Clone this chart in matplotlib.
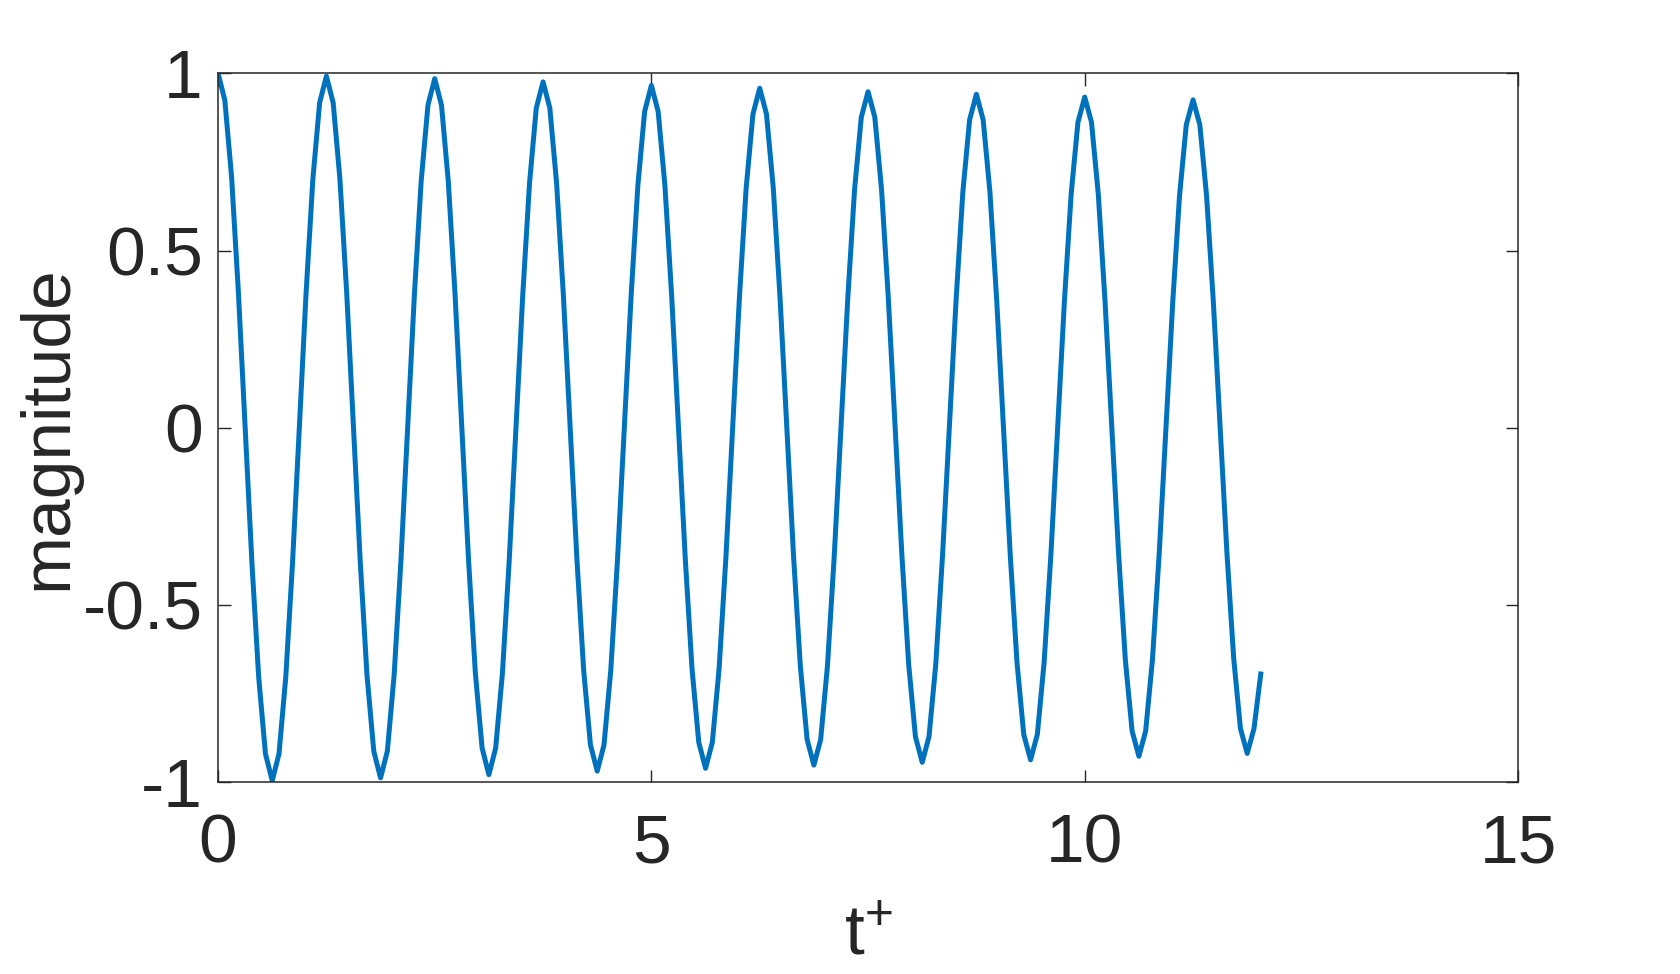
import numpy as np
import matplotlib
matplotlib.use("Agg")
import matplotlib.pyplot as plt

plt.rcParams['font.family'] = ['Liberation Sans', 'DejaVu Sans']
plt.rcParams['axes.unicode_minus'] = False
plt.rcParams['mathtext.fontset'] = 'custom'
plt.rcParams['mathtext.rm'] = 'Liberation Sans'
plt.rcParams['mathtext.it'] = 'Liberation Sans'

# sample spacing of the signal (t+ units)
dt = 0.078125

# magnitude, one value per sample
magnitude = [
    1.000, 0.924, 0.707, 0.383, 0.000, -0.381, -0.704, -0.920,
    -0.996, -0.920, -0.704, -0.381, 0.000, 0.380, 0.701, 0.917,
    0.992, 0.917, 0.701, 0.380, 0.000, -0.378, -0.699, -0.913,
    -0.988, -0.913, -0.699, -0.378, 0.000, 0.377, 0.696, 0.910,
    0.985, 0.910, 0.696, 0.377, 0.000, -0.375, -0.692, -0.904,
    -0.979, -0.904, -0.692, -0.375, 0.000, 0.374, 0.690, 0.902,
    0.976, 0.902, 0.690, 0.374, 0.000, -0.371, -0.685, -0.895,
    -0.969, -0.895, -0.685, -0.371, 0.000, 0.370, 0.683, 0.892,
    0.966, 0.892, 0.683, 0.370, 0.000, -0.368, -0.680, -0.888,
    -0.961, -0.888, -0.680, -0.368, 0.000, 0.367, 0.677, 0.885,
    0.958, 0.885, 0.677, 0.367, 0.000, -0.364, -0.673, -0.880,
    -0.952, -0.880, -0.673, -0.364, 0.000, 0.363, 0.670, 0.876,
    0.948, 0.876, 0.670, 0.363, 0.000, -0.361, -0.668, -0.872,
    -0.944, -0.872, -0.668, -0.361, 0.000, 0.360, 0.665, 0.869,
    0.941, 0.869, 0.665, 0.360, 0.000, -0.359, -0.663, -0.866,
    -0.937, -0.866, -0.663, -0.359, 0.000, 0.357, 0.660, 0.862,
    0.933, 0.862, 0.660, 0.357, 0.000, -0.355, -0.655, -0.856,
    -0.927, -0.856, -0.655, -0.355, 0.000, 0.354, 0.654, 0.855,
    0.925, 0.855, 0.654, 0.354, 0.000, -0.352, -0.650, -0.849,
    -0.919, -0.849, -0.695,
]

xticks = [0, 5, 10, 15]
xtick_labels = ['0', '5', '10', '15']
yticks = [-1, -0.5, 0, 0.5, 1]
ytick_labels = ['-1', '-0.5', '0', '0.5', '1']

t = np.arange(len(magnitude)) * dt

ink = (0.15, 0.15, 0.15)

fig = plt.figure(figsize=(16.8, 9.74), dpi=100)
ax = fig.add_axes([0.1298, 0.197, 0.7738, 0.7277])

ax.plot(t, magnitude, color='#0072BD', linewidth=3.6)

ax.set_xlim(0, 15)
ax.set_ylim(-1, 1)
ax.set_xticks(xticks)
ax.set_xticklabels(xtick_labels)
ax.set_yticks(yticks)
ax.set_yticklabels(ytick_labels)

ax.tick_params(direction='in', length=9, width=1, colors=ink, labelsize=50,
               top=True, right=True)
ax.tick_params(axis='x', pad=22)
ax.tick_params(axis='y', pad=11)
for s in ax.spines.values():
    s.set_color(ink)
    s.set_linewidth(1.1)

ax.set_xlabel('t$^{+}$', fontsize=51, color=ink, labelpad=20)
ax.set_ylabel('magnitude', fontsize=50, color=ink, labelpad=2)

fig.savefig('out.png', dpi=100)
